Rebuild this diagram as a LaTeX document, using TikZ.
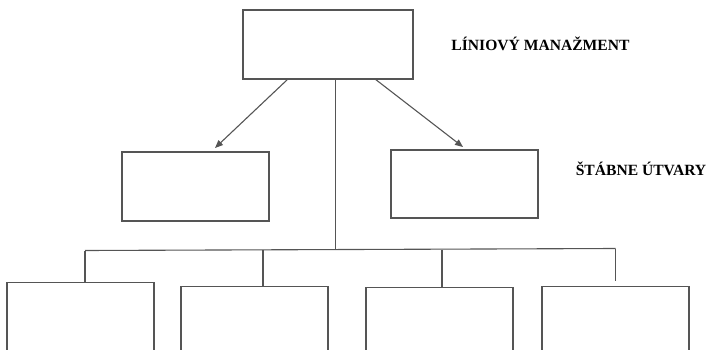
\documentclass[tikz,border=0pt]{standalone}
\usepackage{fontspec}
\setmainfont{Liberation Serif}
\usetikzlibrary{arrows.meta}
\definecolor{linegray}{RGB}{85,85,85}
\begin{document}
\begin{tikzpicture}[x=1pt,y=-1pt,
  orgbox/.style={draw=linegray,line width=1.1pt,rectangle,inner sep=0pt,minimum width=147pt},
  conn/.style={draw=linegray,line width=1.1pt},
  arr/.style={conn,-{Triangle[length=8pt,width=6.5pt]}},
  lbl/.style={font=\bfseries\fontsize{15.6pt}{18pt}\selectfont,anchor=base,inner sep=0pt}]
  \useasboundingbox (0,0) rectangle (711,350);
  \clip (0,0) rectangle (711,350);
  % line management
  \node[orgbox,minimum width=170pt,minimum height=69pt] (top) at (328,44.5) {};
  % staff units
  \node[orgbox,minimum height=69pt] (staffL) at (195.5,186.5) {};
  \node[orgbox,minimum height=68pt] (staffR) at (464.5,184) {};
  % lower line units (cut at the page edge)
  \node[orgbox,minimum height=100pt,anchor=north] (b1) at (80.5,282) {};
  \node[orgbox,minimum height=100pt,anchor=north] (b2) at (254.5,285.5) {};
  \node[orgbox,minimum height=100pt,anchor=north] (b3) at (439.5,286.5) {};
  \node[orgbox,minimum height=100pt,anchor=north] (b4) at (615.5,285.5) {};
  % labels
  \node[lbl] (lm) at (540.5,51) {LÍNIOVÝ MANAŽMENT};
  \node[lbl] (su) at (641,175) {ŠTÁBNE ÚTVARY};
  % arrows to staff units
  \coordinate (aL) at (288,79);
  \coordinate (aR) at (375,79);
  \coordinate (tL) at (215,148);
  \coordinate (tR) at (463,147);
  \draw[arr] (aL) -- (tL);
  \draw[arr] (aR) -- (tR);
  % trunk and bus
  \coordinate (trunk) at (335.5,250);
  \coordinate (j1) at (85,250.5);
  \coordinate (j2) at (263,250);
  \coordinate (j3) at (442,249.5);
  \coordinate (j4) at (615.7,248.5);
  \draw[conn] (top.south -| trunk) -- (trunk);
  \draw[conn] (j1) -- (j4);
  \draw[conn] (j1) -- (j1 |- b1.north);
  \draw[conn] (j2) -- (j2 |- b2.north);
  \draw[conn] (j3) -- (j3 |- b3.north);
  \draw[conn] (j4) -- ++(0,32.5);
\end{tikzpicture}
\end{document}
